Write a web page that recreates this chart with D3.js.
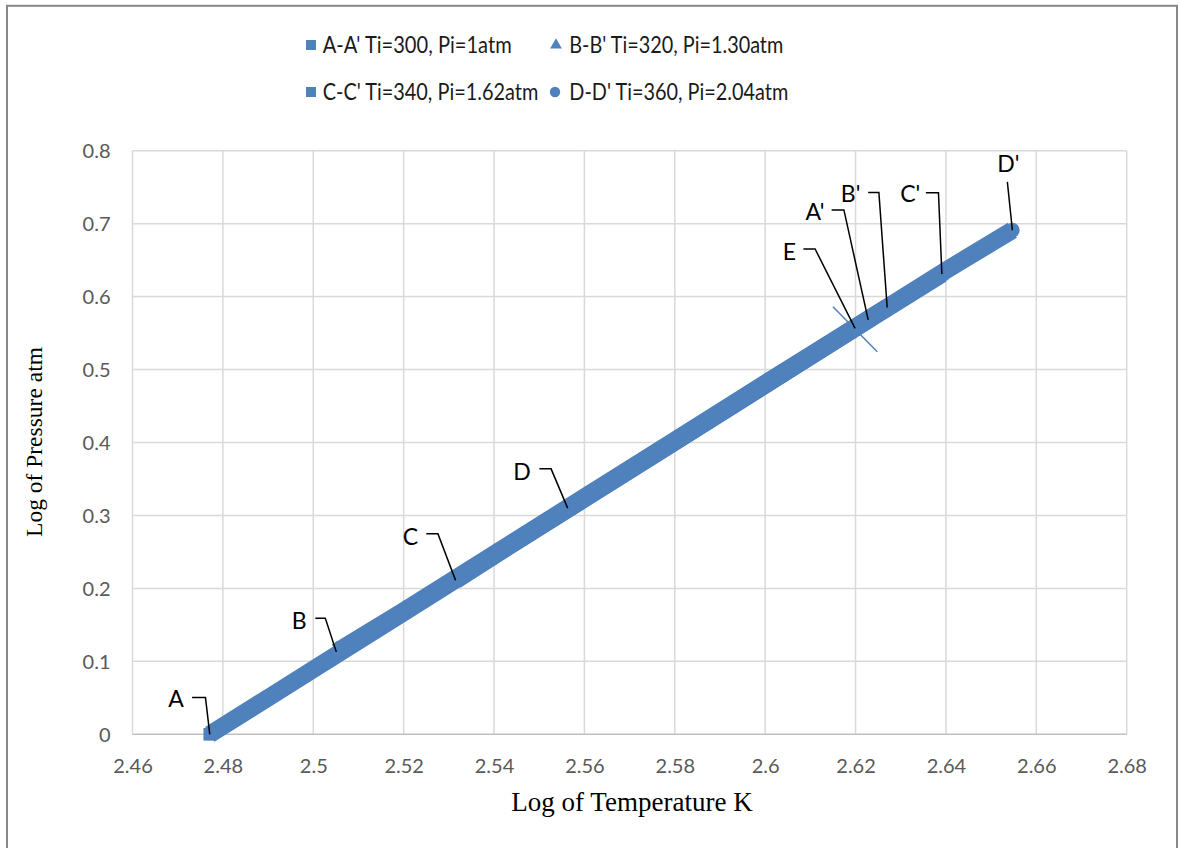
<!DOCTYPE html>
<html><head><meta charset="utf-8">
<script src="https://cdn.jsdelivr.net/npm/d3@7"></script>
<style>html,body{margin:0;padding:0;background:#fff;}svg{display:block;}</style>
</head><body>
<svg id="chart" width="1178" height="848"></svg>
<script>
// ---------- data ----------
const xTicks = [2.46,2.48,2.5,2.52,2.54,2.56,2.58,2.6,2.62,2.64,2.66,2.68];
const yTicks = [0,0.1,0.2,0.3,0.4,0.5,0.6,0.7,0.8];
const seriesNames = ["A-A' Ti=300, Pi=1atm","B-B' Ti=320, Pi=1.30atm","C-C' Ti=340, Pi=1.62atm","D-D' Ti=360, Pi=2.04atm"];
const seriesA_x = [2.4771,2.49,2.50,2.52,2.54,2.56,2.58,2.60,2.6228];
const seriesA_y = [0,0.050,0.089,0.167,0.245,0.323,0.401,0.479,0.568];
const seriesB_x = [2.5051,2.52,2.54,2.56,2.58,2.60,2.627];
const seriesB_y = [0.113,0.169,0.247,0.325,0.403,0.481,0.585];
const seriesC_x = [2.5315,2.54,2.56,2.58,2.60,2.62,2.6391];
const seriesC_y = [0.211,0.245,0.323,0.401,0.479,0.557,0.631];
const seriesD_x = [2.5563,2.58,2.60,2.62,2.64,2.6547];
const seriesD_y = [0.310,0.402,0.480,0.558,0.636,0.691];
const pointE = [2.6199,0.5565];
const crossE_x = [2.6150,2.6248];
const crossE_y = [0.5862,0.5245];
const xTitle = "Log of Temperature K";
const yTitle = "Log of Pressure atm";

// ---------- layout / style ----------
const BLUE = "#4F81BD";
const svg = d3.select("#chart");
const x = d3.scaleLinear().domain([2.46,2.68]).range([132.5,1126.7]);
const y = d3.scaleLinear().domain([0,0.8]).range([734.3,150.7]);
const sansFont = "Lato, 'Open Sans', sans-serif";
const serifFont = "'Liberation Serif', 'Times New Roman', serif";

// outer border
svg.append("rect").attr("x",7).attr("y",5.8).attr("width",1170).attr("height",900)
  .attr("fill","none").attr("stroke","#888").attr("stroke-width",2);

// gridlines
const g = svg.append("g");
g.selectAll(".vg").data(xTicks).enter().append("line")
  .attr("x1",d=>x(d)).attr("x2",d=>x(d)).attr("y1",y(0.8)).attr("y2",y(0))
  .attr("stroke","#d9d9d9").attr("stroke-width",1.5);
g.selectAll(".hg").data(yTicks).enter().append("line")
  .attr("x1",x(2.46)).attr("x2",x(2.68)).attr("y1",d=>y(d)).attr("y2",d=>y(d))
  .attr("stroke",d=>d===0?"#bfbfbf":"#d9d9d9").attr("stroke-width",1.5);

// axes tick labels via d3 axes
const xAxis = d3.axisBottom(x).tickValues(xTicks).tickSize(0).tickPadding(0).tickFormat(d=>String(d));
const gx = svg.append("g").attr("transform",`translate(0,${y(0)+32})`).call(xAxis);
gx.select(".domain").remove();
gx.selectAll("text").attr("font-family",sansFont).attr("font-size",20).attr("fill","#595959").attr("dy","0.35em");
const yAxis = d3.axisLeft(y).tickValues(yTicks).tickSize(0).tickPadding(0).tickFormat(d=>String(d));
const gy = svg.append("g").attr("transform",`translate(${x(2.46)-22},0)`).call(yAxis);
gy.select(".domain").remove();
gy.selectAll("text").attr("font-family",sansFont).attr("font-size",20).attr("fill","#595959").attr("dy","0.35em");

// axis titles
svg.append("text").attr("x",632).attr("y",811).attr("text-anchor","middle")
  .attr("font-family",serifFont).attr("font-size",27).attr("fill","#000").text(xTitle);
svg.append("text").attr("transform","translate(42,442) rotate(-90)").attr("text-anchor","middle")
  .attr("font-family",serifFont).attr("font-size",23.5).attr("fill","#000").text(yTitle);

// series
const allSeries = [
  {xs:seriesA_x, ys:seriesA_y, sym:d3.symbolSquare},
  {xs:seriesB_x, ys:seriesB_y, sym:d3.symbolTriangle},
  {xs:seriesC_x, ys:seriesC_y, sym:d3.symbolSquare},
  {xs:seriesD_x, ys:seriesD_y, sym:d3.symbolCircle}
];
const line = d3.line().x(d=>x(d[0])).y(d=>y(d[1]));
const sg = svg.append("g");
allSeries.forEach(s=>{
  const pts = s.xs.map((v,i)=>[v,s.ys[i]]);
  sg.append("path").attr("d",line(pts)).attr("fill","none").attr("stroke",BLUE)
    .attr("stroke-width",17.5).attr("stroke-linecap","butt");
});
allSeries.forEach(s=>{
  const pts = s.xs.map((v,i)=>[v,s.ys[i]]);
  const size = s.sym===d3.symbolSquare?160:(s.sym===d3.symbolCircle?170:150);
  sg.selectAll(null).data(pts).enter().append("path")
    .attr("d",d3.symbol().type(s.sym).size(size))
    .attr("transform",d=>`translate(${x(d[0])},${y(d[1])})`)
    .attr("fill",BLUE);
});
// E crossing line
svg.append("line").attr("x1",x(crossE_x[0])).attr("y1",y(crossE_y[0]))
  .attr("x2",x(crossE_x[1])).attr("y2",y(crossE_y[1]))
  .attr("stroke",BLUE).attr("stroke-width",1.5);

// callout labels: anchor in data coords, offsets in pixels
const labelAnchors = [
  {t:"A",  p:[seriesA_x[0],seriesA_y[0]]},
  {t:"B",  p:[seriesB_x[0],seriesB_y[0]]},
  {t:"C",  p:[seriesC_x[0],seriesC_y[0]]},
  {t:"D",  p:[seriesD_x[0],seriesD_y[0]]},
  {t:"E",  p:pointE},
  {t:"A'", p:[seriesA_x[seriesA_x.length-1],seriesA_y[seriesA_y.length-1]]},
  {t:"B'", p:[seriesB_x[seriesB_x.length-1],seriesB_y[seriesB_y.length-1]]},
  {t:"C'", p:[seriesC_x[seriesC_x.length-1],seriesC_y[seriesC_y.length-1]]},
  {t:"D'", p:[seriesD_x[seriesD_x.length-1],seriesD_y[seriesD_y.length-1]]}
];
const labelOffsets = {
  "A":  {text:[-33.7,-35.7], elbow:[-4.3,-36.7], end:[-17.7,-36.7]},
  "B":  {text:[-37,-31.6],   elbow:[-11,-33.6],  end:[-21,-33.6]},
  "C":  {text:[-45.3,-44],   elbow:[-17.7,-46.7],end:[-29.3,-46.7]},
  "D":  {text:[-45.6,-36.6], elbow:[-16.6,-39.3],end:[-28.3,-39.3]},
  "E":  {text:[-65.7,-76.6], elbow:[-40,-79.3],  end:[-51.7,-79.3]},
  "A'": {text:[-53.3,-108.3],elbow:[-24.3,-110], end:[-36.6,-110]},
  "B'": {text:[-36.6,-113.7],elbow:[-8.3,-115],  end:[-19,-115]},
  "C'": {text:[-31.7,-80],   elbow:[-3.4,-81.3], end:[-16,-81.3]},
  "D'": {text:[-4,-66.7],    elbow:[-5,-48.3],   end:null}
};
const lg = svg.append("g");
labelAnchors.forEach(l=>{
  const ax = x(l.p[0]), ay = y(l.p[1]);
  const o = labelOffsets[l.t];
  let pts = [[ax,ay],[ax+o.elbow[0],ay+o.elbow[1]]];
  if(o.end) pts.push([ax+o.end[0],ay+o.end[1]]);
  lg.append("path").attr("d",d3.line()(pts)).attr("fill","none").attr("stroke","#000").attr("stroke-width",1.5);
  lg.append("text").attr("x",ax+o.text[0]).attr("y",ay+o.text[1]).attr("dy","0.36em")
    .attr("text-anchor","middle").attr("font-family",sansFont).attr("font-size",23).attr("fill","#000").text(l.t);
});

// legend
const legendItems = [
  {name:seriesNames[0], sym:d3.symbolSquare,  mx:311, my:45,  tx:322.7, w:189},
  {name:seriesNames[1], sym:d3.symbolTriangle,mx:556, my:45,  tx:569.3, w:214},
  {name:seriesNames[2], sym:d3.symbolSquare,  mx:311, my:92,  tx:322.7, w:215.6},
  {name:seriesNames[3], sym:d3.symbolCircle,  mx:555, my:92,  tx:569.3, w:219}
];
const leg = svg.append("g");
legendItems.forEach(it=>{
  const sz = it.sym===d3.symbolSquare?100:(it.sym===d3.symbolCircle?85:60);
  leg.append("path").attr("d",d3.symbol().type(it.sym).size(sz))
    .attr("transform",`translate(${it.mx},${it.my})`).attr("fill",BLUE);
  leg.append("text").attr("x",it.tx).attr("y",it.my).attr("dy","0.36em")
    .attr("font-family",sansFont).attr("font-size",23.5).attr("fill","#1a1a1a")
    .attr("textLength",it.w).attr("lengthAdjust","spacingAndGlyphs").text(it.name);
});
</script>
</body></html>
